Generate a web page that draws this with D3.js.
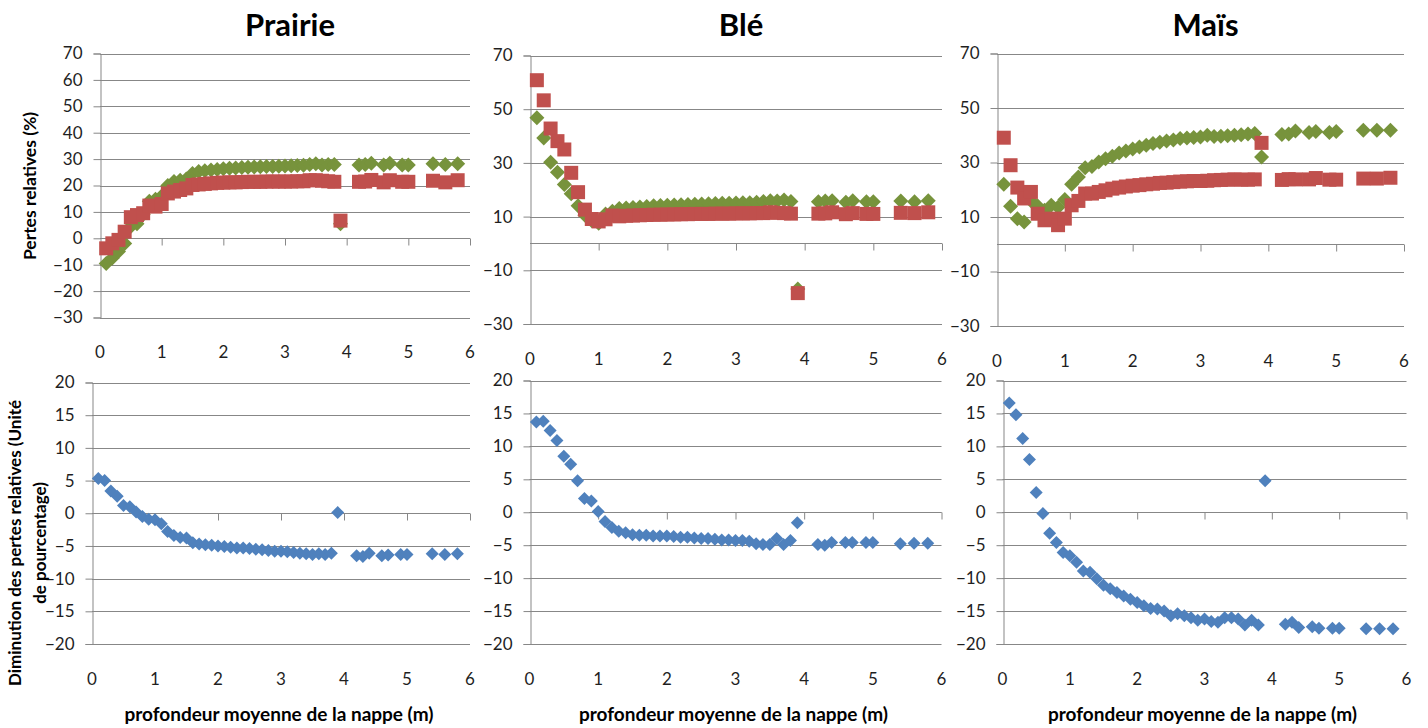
<!DOCTYPE html>
<html>
<head>
<meta charset="utf-8">
<script src="https://cdn.jsdelivr.net/npm/d3@7"></script>
<style>
  html, body { margin: 0; padding: 0; background: #fff; }
  svg { display: block; }
  text { font-family: "Lato", "Carlito", "Open Sans", sans-serif; }
</style>
</head>
<body>
<svg id="chart" width="1428" height="728"></svg>
<script>
// ---------------- DATA ----------------
const depth = [0.1,0.2,0.3,0.4,0.5,0.6,0.7,0.8,0.9,1.0,1.1,1.2,1.3,1.4,1.5,1.6,1.7,1.8,1.9,2.0,
  2.1,2.2,2.3,2.4,2.5,2.6,2.7,2.8,2.9,3.0,3.1,3.2,3.3,3.4,3.5,3.6,3.7,3.8,3.9,
  4.2,4.3,4.4,4.6,4.7,4.9,5.0,5.4,5.6,5.8];

const prairieGreen = [-9.5,-7.5,-5.0,-2.0,4.5,5.5,9.0,14.0,14.8,16.0,20.0,21.5,22.0,22.5,24.5,25.3,25.6,25.9,26.1,26.3,
  26.5,26.6,26.8,26.9,27.0,27.1,27.2,27.2,27.3,27.4,27.5,27.6,27.7,28.0,28.2,27.8,28.0,28.0,5.5,
  27.8,28.0,28.4,27.8,28.4,27.8,27.8,28.2,28.0,28.2];
const prairieRed = [-3.8,-1.9,-0.6,2.5,8.0,8.8,9.5,12.4,12.0,13.0,17.0,17.7,18.3,18.9,20.2,20.4,20.6,20.8,21.0,21.1,
  21.2,21.2,21.3,21.4,21.4,21.4,21.5,21.5,21.5,21.5,21.5,21.6,21.6,22.0,22.0,21.8,21.6,21.4,6.7,
  21.4,21.5,22.1,21.2,22.0,21.4,21.4,21.8,21.2,22.0];
const prairieBlue = [5.3,5.0,3.4,2.6,1.2,1.0,0.2,-0.5,-0.9,-1.0,-1.6,-2.8,-3.4,-3.7,-3.8,-4.5,-4.7,-4.8,-4.9,-5.0,
  -5.1,-5.2,-5.3,-5.3,-5.4,-5.5,-5.6,-5.7,-5.8,-5.8,-5.9,-6.0,-6.1,-6.2,-6.3,-6.2,-6.3,-6.1,0.1,
  -6.5,-6.6,-6.1,-6.5,-6.4,-6.3,-6.3,-6.2,-6.3,-6.2];

const bleGreen = [46.8,39.3,30.2,26.5,22.0,18.5,14.0,10.5,8.5,7.5,11.0,12.0,13.0,13.2,13.4,13.6,13.8,14.0,14.1,14.2,
  14.3,14.4,14.5,14.6,14.7,14.8,14.9,15.0,15.0,15.1,15.2,15.2,15.3,15.6,15.9,15.8,16.2,15.6,-17.0,
  15.5,15.8,15.9,15.3,15.9,15.5,15.5,15.8,15.5,15.9];
const bleRed = [60.8,53.3,42.8,38.1,35.0,26.3,19.1,12.6,9.1,8.2,9.0,10.4,10.1,10.3,10.4,10.5,10.6,10.7,10.7,10.8,
  10.8,10.9,10.9,11.0,11.0,11.0,11.1,11.1,11.1,11.2,11.2,11.2,11.3,11.3,11.6,11.4,11.3,11.1,-18.5,
  11.1,11.2,11.6,10.9,11.3,11.0,11.0,11.4,11.3,11.6];
const bleBlue = [13.7,13.8,12.4,10.9,8.5,7.3,4.8,2.1,1.7,0.1,-1.4,-2.3,-2.9,-3.1,-3.4,-3.5,-3.5,-3.6,-3.6,-3.6,
  -3.7,-3.8,-3.8,-3.9,-4.0,-4.0,-4.1,-4.2,-4.2,-4.3,-4.3,-4.4,-4.8,-4.9,-4.9,-4.0,-4.9,-4.3,-1.6,
  -4.9,-5.0,-4.6,-4.6,-4.6,-4.6,-4.6,-4.8,-4.7,-4.7];

const maisGreen = [22.0,13.9,9.4,8.2,16.0,14.0,12.5,14.3,13.6,16.4,22.0,24.7,28.1,28.5,30.2,31.4,32.3,33.5,34.2,35.0,
  35.7,36.3,37.0,37.4,37.9,38.3,38.8,39.0,39.2,39.4,40.0,39.5,39.6,39.8,40.0,40.2,40.5,40.6,32.0,
  40.3,40.5,41.6,41.0,41.4,41.0,41.4,41.8,41.8,41.8];
const maisRed = [39.1,29.0,20.8,16.8,19.2,11.2,8.8,9.4,7.0,9.4,14.3,15.9,18.6,18.6,19.2,19.8,20.4,20.8,21.2,21.5,
  21.7,22.0,22.2,22.5,22.6,22.8,23.0,23.1,23.2,23.2,23.3,23.5,23.6,23.7,23.8,23.7,23.7,23.8,37.2,
  23.6,23.9,23.8,23.8,24.3,23.7,23.7,24.1,24.1,24.4];
const maisBlue = [16.6,14.8,11.2,8.0,3.0,-0.2,-3.2,-4.6,-6.1,-6.6,-7.6,-8.9,-9.1,-10.1,-11.1,-11.6,-12.2,-12.7,-13.2,-13.7,
  -14.2,-14.6,-14.7,-15.0,-15.7,-15.4,-15.7,-16.0,-16.4,-16.2,-16.6,-16.7,-16.0,-16.0,-16.2,-17.1,-16.4,-17.1,4.8,
  -17.0,-16.7,-17.5,-17.4,-17.6,-17.6,-17.6,-17.7,-17.7,-17.7];

const cropTitles = ["Prairie", "Blé", "Maïs"];
const xTicks = [0,1,2,3,4,5,6];
const topTicksPrairie = [-30,-20,-10,0,10,20,30,40,50,60,70];
const topTicksOther = [-30,-10,10,30,50,70];
const bottomTicks = [-20,-15,-10,-5,0,5,10,15,20];
const yLabelTop = "Pertes relatives (%)";
const yLabelBottom = ["Diminution des pertes relatives (Unité", "de pourcentage)"];
const xLabel = "profondeur moyenne de la nappe (m)";

// ---------------- STYLE ----------------
const GREEN = "#77933C", RED = "#C0504D", BLUE = "#4F81BD";
const GRID = "#878787", TXT = "#1f1f1f";
const TICK_FS = "17px", TITLE_FS = "19px";

const svg = d3.select("#chart");

const panels = [
  {title: cropTitles[0], x0: 100, x1: 470, yT: 53.5, yB: 317.5, dom: [-30,70], ticks: topTicksPrairie, kind: "top",
   series: [{v: prairieGreen, c: GREEN, m: "diamond"}, {v: prairieRed, c: RED, m: "square"}]},
  {title: cropTitles[1], x0: 530, x1: 942, yT: 55.5, yB: 324, dom: [-30,70], ticks: topTicksOther, kind: "top",
   series: [{v: bleGreen, c: GREEN, m: "diamond"}, {v: bleRed, c: RED, m: "square"}]},
  {title: cropTitles[2], x0: 997, x1: 1404, yT: 53.5, yB: 326, dom: [-30,70], ticks: topTicksOther, kind: "top",
   series: [{v: maisGreen, c: GREEN, m: "diamond"}, {v: maisRed, c: RED, m: "square"}]},
  {x0: 92, x1: 470, yT: 382.5, yB: 644, dom: [-20,20], ticks: bottomTicks, kind: "bottom",
   series: [{v: prairieBlue, c: BLUE, m: "diamondS"}]},
  {x0: 529.5, x1: 941.5, yT: 380.5, yB: 644, dom: [-20,20], ticks: bottomTicks, kind: "bottom",
   series: [{v: bleBlue, c: BLUE, m: "diamondS"}]},
  {x0: 1002.5, x1: 1406.5, yT: 380.5, yB: 644, dom: [-20,20], ticks: bottomTicks, kind: "bottom",
   series: [{v: maisBlue, c: BLUE, m: "diamondS"}]}
];

function markerPath(m) {
  if (m === "square") { const s = 7; return `M${-s},${-s}H${s}V${s}H${-s}Z`; }
  if (m === "diamond") { const s = 7.5; return `M0,${-s}L${s},0L0,${s}L${-s},0Z`; }
  const s = 6.5; return `M0,${-s}L${s},0L0,${s}L${-s},0Z`;
}

panels.forEach(p => {
  const x = d3.scaleLinear().domain([0, 6]).range([p.x0, p.x1]);
  const y = d3.scaleLinear().domain(p.dom).range([p.yB, p.yT]);
  const g = svg.append("g");

  // gridlines
  g.append("g").selectAll("line").data(p.ticks).join("line")
    .attr("x1", p.x0).attr("x2", p.x1)
    .attr("y1", d => Math.round(y(d)) + 0.5).attr("y2", d => Math.round(y(d)) + 0.5)
    .attr("stroke", GRID).attr("stroke-width", 1);

  // y axis
  const ya = g.append("g").attr("transform", `translate(${Math.round(p.x0) + 0.5},0)`)
    .call(d3.axisLeft(y).tickValues(p.ticks).tickSize(7).tickPadding(11).tickFormat(d3.format("d")));
  ya.select(".domain").attr("stroke", GRID);
  ya.selectAll(".tick line").attr("stroke", GRID);
  ya.selectAll(".tick text").attr("fill", TXT).style("font-size", TICK_FS)
    .style("font-family", "Lato, Carlito, sans-serif");

  // x axis at zero
  const xa = g.append("g").attr("transform", `translate(0,${Math.round(y(0)) + 0.5})`)
    .call(d3.axisBottom(x).tickValues(xTicks.slice(1)).tickSize(7).tickFormat(""));
  xa.select(".domain").attr("stroke", GRID).attr("d", `M${p.x0},0H${p.x1}`);
  xa.selectAll(".tick line").attr("stroke", GRID);

  // x tick labels at bottom
  const labY = p.yB + 35;
  g.append("g").selectAll("text").data(xTicks).join("text")
    .attr("x", d => x(d)).attr("y", labY).attr("dy", "0.35em")
    .attr("text-anchor", "middle").attr("fill", TXT).style("font-size", TICK_FS)
    .text(d => d);

  // markers
  p.series.forEach(s => {
    g.append("g").selectAll("path").data(depth.map((d, i) => [d, s.v[i]])).join("path")
      .attr("d", markerPath(s.m))
      .attr("transform", d => `translate(${x(d[0])},${y(d[1])})`)
      .attr("fill", s.c);
  });

  if (p.title) {
    g.append("text").attr("x", (p.x0 + p.x1) / 2 + 5).attr("y", 36)
      .attr("text-anchor", "middle").style("font-size", "31px").style("font-weight", "bold")
      .attr("fill", "#000").text(p.title);
  }
  if (p.kind === "bottom") {
    g.append("text").attr("x", (p.x0 + p.x1) / 2 - 2).attr("y", 721)
      .attr("text-anchor", "middle").style("font-size", TITLE_FS).style("font-weight", "bold")
      .attr("fill", "#000").text(xLabel);
  }
});

// y axis titles
svg.append("text").attr("transform", "translate(36,186) rotate(-90)")
  .attr("text-anchor", "middle").style("font-size", "17.5px").style("font-weight", "bold")
  .attr("fill", "#000").text(yLabelTop);
yLabelBottom.forEach((t, i) => {
  svg.append("text").attr("transform", `translate(${21 + i * 25},543) rotate(-90)`)
    .attr("text-anchor", "middle").style("font-size", "17px").style("font-weight", "bold")
    .attr("fill", "#000").text(t);
});
</script>
</body>
</html>
